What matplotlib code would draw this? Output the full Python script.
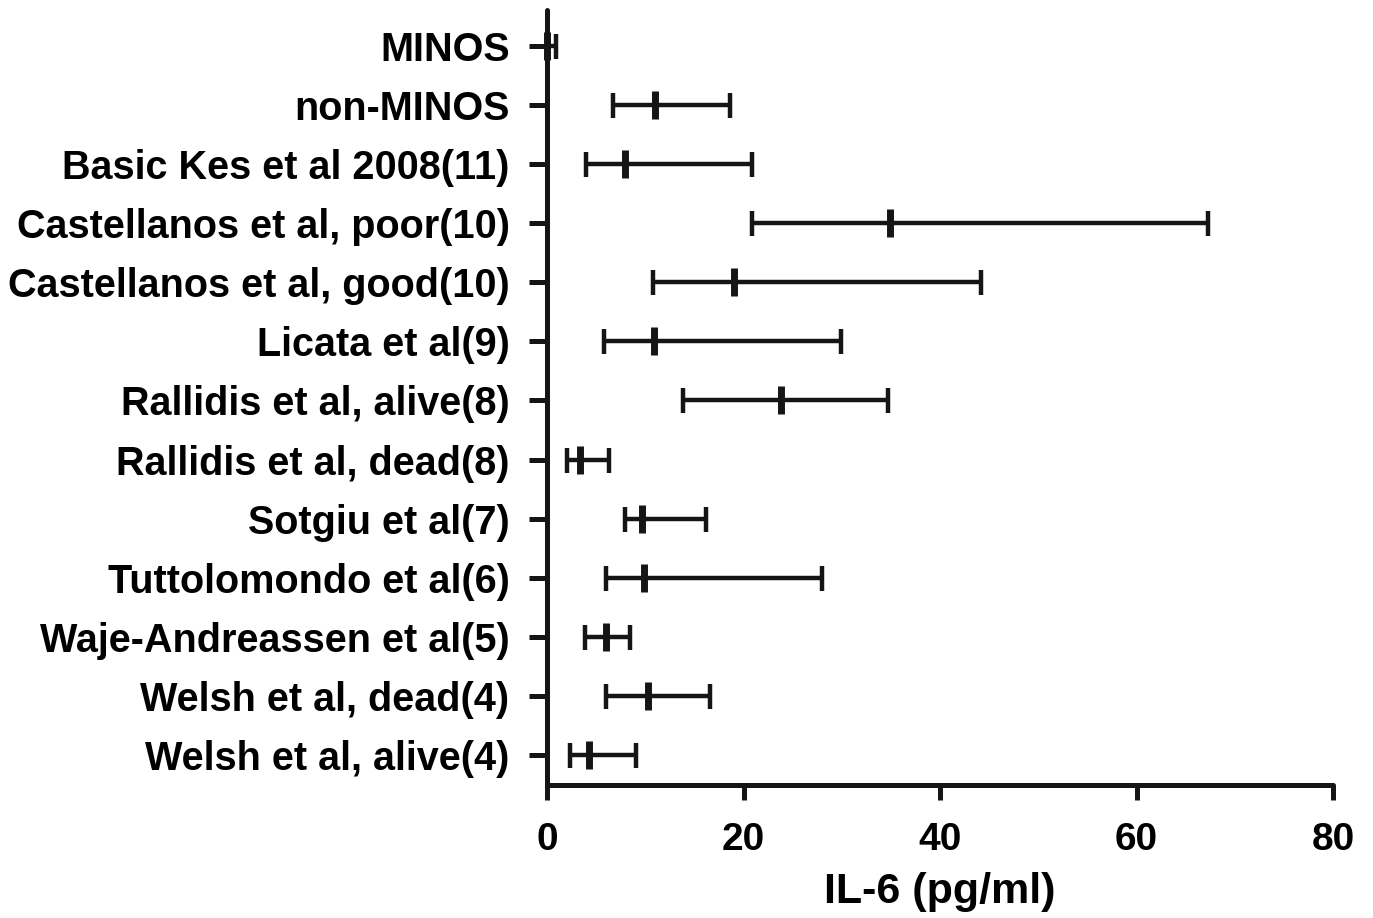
import matplotlib
matplotlib.use("Agg")
import matplotlib.pyplot as plt

# IL-6 (pg/ml): median with interquartile-type range, top to bottom
studies = [
    "MINOS",
    "non-MINOS",
    "Basic Kes et al 2008(11)",
    "Castellanos et al, poor(10)",
    "Castellanos et al, good(10)",
    "Licata et al(9)",
    "Rallidis et al, alive(8)",
    "Rallidis et al, dead(8)",
    "Sotgiu et al(7)",
    "Tuttolomondo et al(6)",
    "Waje-Andreassen et al(5)",
    "Welsh et al, dead(4)",
    "Welsh et al, alive(4)",
]
median = [0.0, 11.0, 7.9, 34.9, 19.0, 10.9, 23.8, 3.4, 9.7, 9.9, 6.0, 10.3, 4.3]
low = [0.0, 6.7, 4.0, 20.9, 10.8, 5.8, 13.8, 2.0, 7.9, 6.0, 3.9, 6.0, 2.3]
high = [0.9, 18.6, 20.9, 67.3, 44.2, 29.9, 34.7, 6.3, 16.2, 28.0, 8.4, 16.6, 9.1]

xticks = [0, 20, 40, 60, 80]

plt.rcParams["font.family"] = ["Liberation Sans", "DejaVu Sans"]
plt.rcParams["font.weight"] = "bold"

ink = "#151515"
fig = plt.figure(figsize=(13.73, 9.18), dpi=100)
ax = fig.add_axes([0.3984, 0.1449, 0.9709 - 0.3984, 0.989 - 0.1449])

ypos = list(range(len(studies)))
err_lo = [m - l for m, l in zip(median, low)]
err_hi = [h - m for m, h in zip(median, high)]
ax.errorbar(median, ypos, xerr=[err_lo, err_hi], fmt="none", ecolor=ink,
            elinewidth=3.2, capsize=9, capthick=3.2, clip_on=False, zorder=3)
ax.plot(median, ypos, linestyle="none", marker="|", markersize=20,
        markeredgewidth=5.0, color=ink, clip_on=False, zorder=4)

ax.set_ylim(len(studies) - 1 + 0.51, -0.61)
ax.set_xlim(0, 80)
ax.set_yticks(ypos)
ax.set_yticklabels(studies, fontsize=28.5, fontweight="bold")
ax.set_xticks(xticks)
ax.set_xticklabels([str(t) for t in xticks], fontsize=28, fontweight="bold")
ax.set_xlabel("IL-6 (pg/ml)", fontsize=31, fontweight="bold", labelpad=10)

for side in ("top", "right"):
    ax.spines[side].set_visible(False)
for side in ("left", "bottom"):
    ax.spines[side].set_linewidth(3.6)
    ax.spines[side].set_color(ink)
    ax.spines[side].set_capstyle("round")
ax.tick_params(axis="y", length=13, width=3.6, color=ink, pad=14)
ax.tick_params(axis="x", length=11, width=3.6, color=ink, pad=16)

fig.savefig("out.png", dpi=100)
